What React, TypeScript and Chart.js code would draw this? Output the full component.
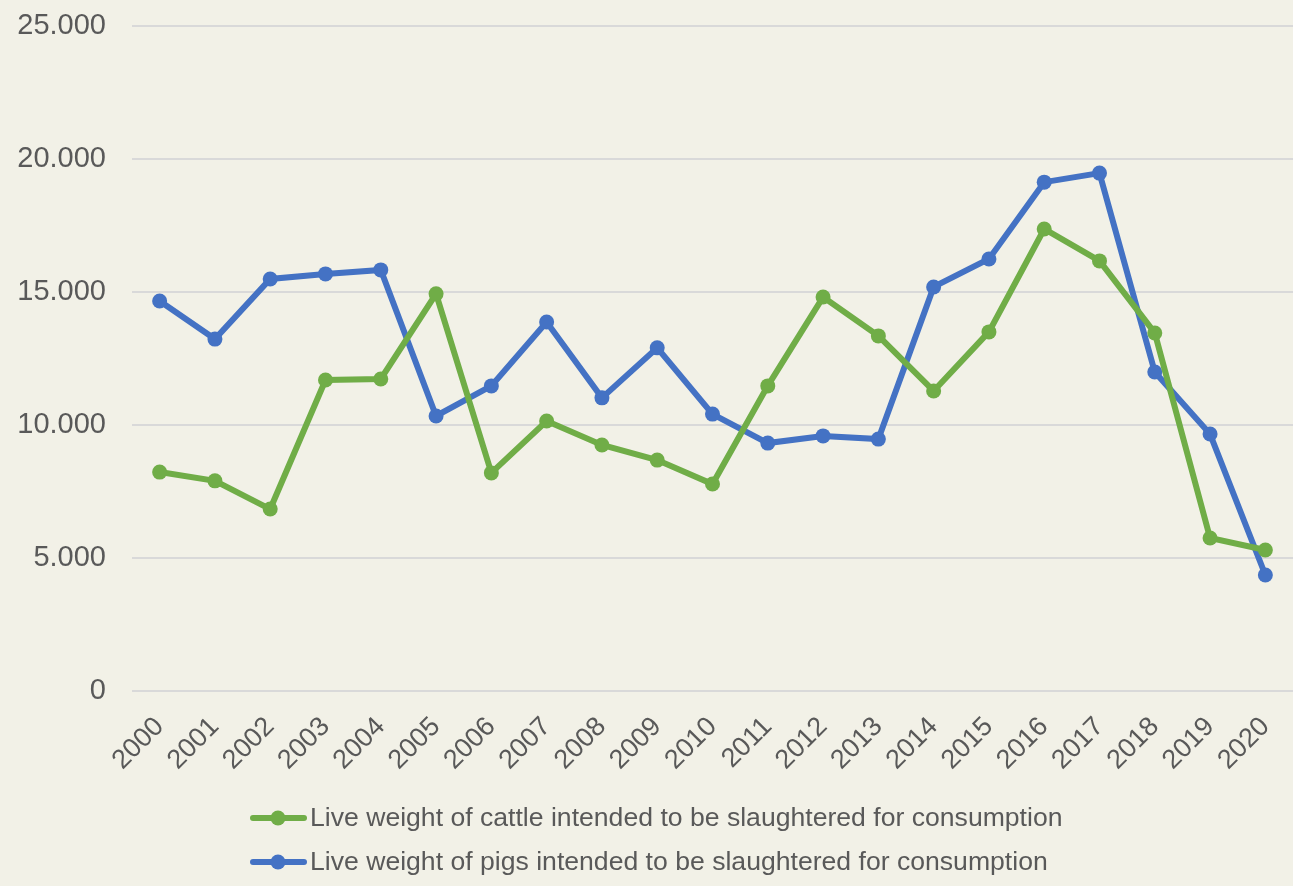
import React, { useEffect, useRef } from "react";
import { Chart, registerables } from "chart.js";

Chart.register(...registerables);

const years = ["2000","2001","2002","2003","2004","2005","2006","2007","2008","2009","2010","2011","2012","2013","2014","2015","2016","2017","2018","2019","2020"];
const cattle = [8230, 7900, 6840, 11690, 11730, 14930, 8200, 10150, 9250, 8680, 7780, 11470, 14810, 13350, 11280, 13500, 17370, 16170, 13460, 5750, 5300];
const pigs = [14660, 13230, 15490, 15680, 15830, 10340, 11470, 13870, 11020, 12900, 10410, 9320, 9590, 9470, 15190, 16240, 19130, 19470, 11990, 9660, 4360];
const seriesLabels = [
  "Live weight of cattle intended to be slaughtered for consumption",
  "Live weight of pigs intended to be slaughtered for consumption",
];
const colors = ["#70ad47", "#4472c4"];
const yMax = 25000;
const yStep = 5000;

const BG = "#f2f1e7";
const TEXT = "#595959";
const FONT = "'Liberation Sans', Arial, sans-serif";

const CW = 1293;
const CH = 886;

function fmt(v: number): string {
  return String(Math.round(v)).replace(/\B(?=(\d{3})+(?!\d))/g, ".");
}

const legendPlugin = {
  id: "customLegend",
  afterDraw(chart: any) {
    const ctx = chart.ctx;
    ctx.save();
    const x0 = 250;
    const ys = [818, 862];
    chart.data.datasets.forEach((ds: any, i: number) => {
      const y = ys[i];
      ctx.strokeStyle = ds.borderColor;
      ctx.lineWidth = 6;
      ctx.lineCap = "round";
      ctx.beginPath();
      ctx.moveTo(x0 + 3, y);
      ctx.lineTo(x0 + 54, y);
      ctx.stroke();
      ctx.fillStyle = ds.borderColor;
      ctx.beginPath();
      ctx.arc(x0 + 28, y, 7.5, 0, Math.PI * 2);
      ctx.fill();
      ctx.fillStyle = TEXT;
      ctx.font = `26.6px ${FONT}`;
      ctx.textBaseline = "middle";
      ctx.textAlign = "left";
      ctx.fillText(ds.label, x0 + 60, y + 1);
    });
    ctx.restore();
  },
};

const bgPlugin = {
  id: "bg",
  beforeDraw(chart: any) {
    const ctx = chart.ctx;
    ctx.save();
    ctx.fillStyle = BG;
    ctx.fillRect(0, 0, chart.width, chart.height);
    ctx.restore();
  },
};

export default function App() {
  const ref = useRef<HTMLCanvasElement>(null);
  useEffect(() => {
    if (!ref.current) return;
    const mk = (i: number, data: number[]) => ({
      label: seriesLabels[i],
      data,
      borderColor: colors[i],
      backgroundColor: colors[i],
      borderWidth: 6,
      pointRadius: 7.5,
      pointHoverRadius: 7.5,
      pointBorderWidth: 0,
      tension: 0,
      clip: false as any,
    });
    const chart = new Chart(ref.current, {
      type: "line",
      data: {
        labels: years,
        datasets: [mk(0, cattle), mk(1, pigs)],
      },
      options: {
        animation: false,
        responsive: false,
        maintainAspectRatio: false,
        devicePixelRatio: 1,
        layout: { autoPadding: false, padding: { top: 26, right: 0, left: 0, bottom: 0 } },
        plugins: {
          legend: { display: false },
          tooltip: { enabled: false },
        },
        scales: {
          x: {
            offset: true,
            grid: { display: false, drawTicks: false },
            border: { display: false },
            ticks: {
              minRotation: 45,
              maxRotation: 45,
              autoSkip: false,
              padding: 20,
              color: TEXT,
              font: { family: FONT, size: 27 },
            },
            afterFit(scale: any) {
              scale.height = 886 - 691;
              scale.paddingRight = 0;
              scale.paddingLeft = 0;
            },
          },
          y: {
            min: 0,
            max: yMax,
            grid: { color: "#d9d9d9", lineWidth: 2, drawTicks: false },
            border: { display: false },
            ticks: {
              stepSize: yStep,
              padding: 26,
              color: TEXT,
              font: { family: FONT, size: 29 },
              callback: (v: any) => fmt(Number(v)),
            },
            afterFit(scale: any) {
              scale.width = 132;
              scale.paddingTop = 0;
              scale.paddingBottom = 0;
            },
          },
        },
      },
      plugins: [bgPlugin, legendPlugin],
    });
    return () => chart.destroy();
  }, []);
  return (
    <div style={{ position: "fixed", left: 0, top: 0, width: 1293, height: 886, background: BG, overflow: "hidden" }}>
      <canvas ref={ref} width={CW} height={CH} style={{ display: "block" }} />
    </div>
  );
}
